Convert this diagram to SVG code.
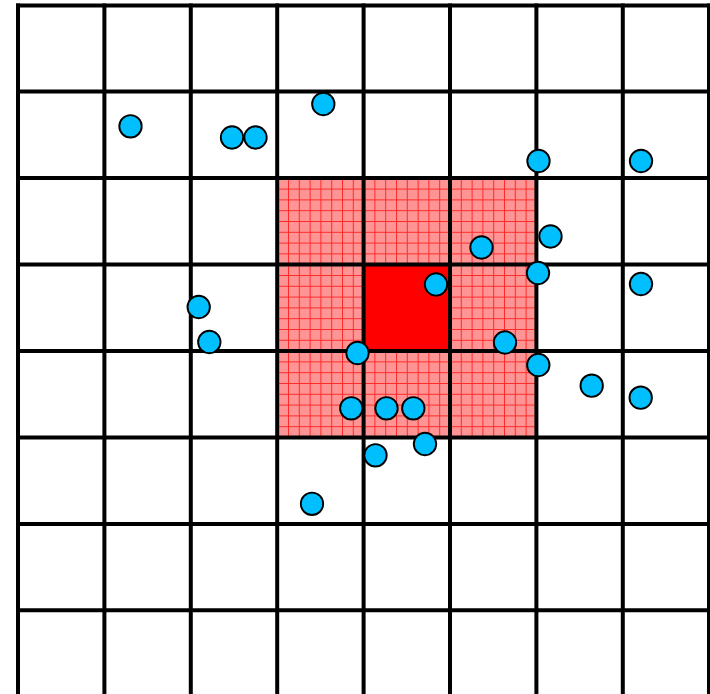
<svg xmlns="http://www.w3.org/2000/svg" width="710" height="694" viewBox="0 0 710 694">
  <defs>
    <pattern id="hatch" x="277.2" y="177.8" width="10.8" height="10.8" patternUnits="userSpaceOnUse">
      <rect width="10.8" height="10.8" fill="#ff9494"/>
      <path d="M0 0.5H10.8M0.5 0V10.8" stroke="#ff2a2a" stroke-width="1" fill="none"/>
    </pattern>
    <style>
      .grid line { stroke: #000; stroke-width: 4; }
      .pt { fill: #00bfff; stroke: #000; stroke-width: 1.9; }
    </style>
  </defs>
  <rect width="710" height="694" fill="#fff"/>
  <g id="neighbourhood">
    <rect x="277.2" y="177.8" width="259.2" height="259.2" fill="url(#hatch)"/>
    <rect id="centre-cell" x="363.6" y="264.2" width="86.4" height="86.4" fill="#ff0000"/>
  </g>
  <g id="grid" class="grid">
    <line x1="18" y1="3.5" x2="18" y2="694"/>
    <line x1="104.4" y1="3.5" x2="104.4" y2="694"/>
    <line x1="190.8" y1="3.5" x2="190.8" y2="694"/>
    <line x1="277.2" y1="3.5" x2="277.2" y2="694"/>
    <line x1="363.6" y1="3.5" x2="363.6" y2="694"/>
    <line x1="450" y1="3.5" x2="450" y2="694"/>
    <line x1="536.4" y1="3.5" x2="536.4" y2="694"/>
    <line x1="622.8" y1="3.5" x2="622.8" y2="694"/>
    <line x1="709" y1="3.5" x2="709" y2="694"/>
    <line x1="16" y1="5.5" x2="710" y2="5.5"/>
    <line x1="16" y1="91.5" x2="710" y2="91.5"/>
    <line x1="16" y1="178" x2="710" y2="178"/>
    <line x1="16" y1="264.5" x2="710" y2="264.5"/>
    <line x1="16" y1="351" x2="710" y2="351"/>
    <line x1="16" y1="437.5" x2="710" y2="437.5"/>
    <line x1="16" y1="524" x2="710" y2="524"/>
    <line x1="16" y1="610.3" x2="710" y2="610.3"/>
  </g>
  <g id="points">
    <circle class="pt" cx="130.5" cy="126.3" r="11.2"/>
    <circle class="pt" cx="232" cy="137.5" r="11.2"/>
    <circle class="pt" cx="255.5" cy="137.5" r="11.2"/>
    <circle class="pt" cx="323.3" cy="104" r="11.2"/>
    <circle class="pt" cx="538.5" cy="161" r="11.2"/>
    <circle class="pt" cx="641" cy="161" r="11.2"/>
    <circle class="pt" cx="481.5" cy="247.5" r="11.2"/>
    <circle class="pt" cx="550.5" cy="236.5" r="11.2"/>
    <circle class="pt" cx="538" cy="273" r="11.2"/>
    <circle class="pt" cx="641" cy="284" r="11.2"/>
    <circle class="pt" cx="436" cy="284.5" r="11.2"/>
    <circle class="pt" cx="198.7" cy="307" r="11.2"/>
    <circle class="pt" cx="209.3" cy="342" r="11.2"/>
    <circle class="pt" cx="357.5" cy="353" r="11.2"/>
    <circle class="pt" cx="505" cy="342.5" r="11.2"/>
    <circle class="pt" cx="538.3" cy="365" r="11.2"/>
    <circle class="pt" cx="591.7" cy="385.7" r="11.2"/>
    <circle class="pt" cx="640.7" cy="397.7" r="11.2"/>
    <circle class="pt" cx="351.3" cy="408.3" r="11.2"/>
    <circle class="pt" cx="386.5" cy="408.3" r="11.2"/>
    <circle class="pt" cx="413.3" cy="408.3" r="11.2"/>
    <circle class="pt" cx="425" cy="444" r="11.2"/>
    <circle class="pt" cx="375.5" cy="455.3" r="11.2"/>
    <circle class="pt" cx="312" cy="503.8" r="11.2"/>
  </g>
</svg>
